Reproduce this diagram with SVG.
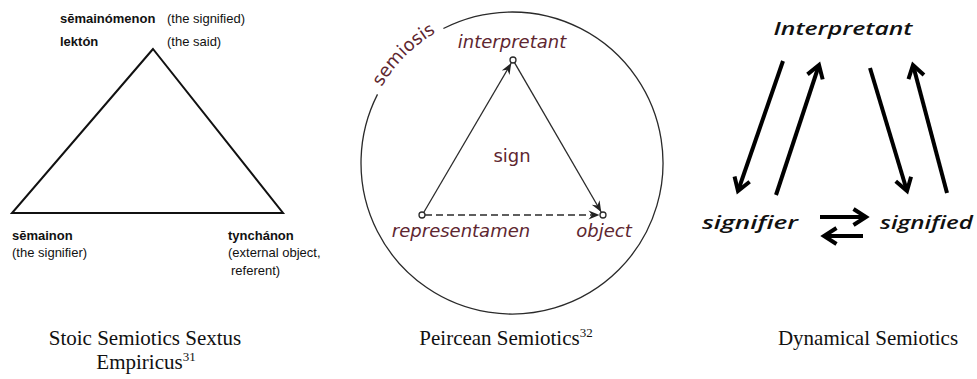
<svg xmlns="http://www.w3.org/2000/svg" width="977" height="379" viewBox="0 0 977 379">
<style>
.gk{font-family:"Liberation Sans",Arial,sans-serif;font-size:13px;font-weight:bold;fill:#111}
.gl{font-family:"Liberation Sans",Arial,sans-serif;font-size:13px;fill:#111}
.pc{font-family:"DejaVu Sans",sans-serif;font-size:18px;fill:#5e2630}
.pi{font-style:italic}
.dy{font-family:"Open Sans",sans-serif;font-size:18px;font-style:italic;font-weight:600;fill:#111}
.cap{font-family:"Liberation Serif","Times New Roman",serif;font-size:21px;fill:#111}
.sup{font-size:13px}
.thin{stroke:#2a2a2a;stroke-width:1.3;fill:none}
.thick{stroke:#000;stroke-width:4;fill:none}
</style>
<defs>
<marker id="stealth" markerUnits="userSpaceOnUse" markerWidth="14" markerHeight="12" refX="0" refY="0" viewBox="-11 -6 12 12" orient="auto" overflow="visible">
<path d="M0,0 L-11,-4.5 L-7.5,0 L-11,4.5 Z" fill="#222"/>
</marker>
<marker id="chev" markerUnits="userSpaceOnUse" markerWidth="20" markerHeight="20" refX="0" refY="0" viewBox="-16 -10 20 20" orient="auto" overflow="visible">
<path d="M-12.5,-8 L0,0 L-12.5,8" fill="none" stroke="#000" stroke-width="4" stroke-linejoin="miter"/>
</marker>
<path id="semarc" d="M 377.5 94.4 A 151 151 0 0 1 443.4 28.5"/>
</defs>

<!-- Left: Stoic semiotics -->
<g id="stoic-triangle">
<path d="M153,49 L12,213 L283,213 Z" fill="none" stroke="#111" stroke-width="2" stroke-linejoin="miter"/>
</g>
<g id="semainomenon">
<text class="gk" x="60" y="23">sēmainómenon</text>
<text class="gl" x="167" y="23">(the signified)</text>
<text class="gk" x="60" y="46">lektón</text>
<text class="gl" x="167" y="46">(the said)</text>
</g>
<g id="semainon">
<text class="gk" x="12" y="240">sēmainon</text>
<text class="gl" x="12" y="257">(the signifier)</text>
</g>
<g id="tynchanon">
<text class="gk" x="228" y="240">tynchánon</text>
<text class="gl" x="228" y="257">(external object,</text>
<text class="gl" x="231" y="275">referent)</text>
</g>

<!-- Middle: Peircean semiotics -->
<g id="semiosis">
<path class="thin" d="M 443.4 28.5 A 151 151 0 1 1 377.5 94.4"/>
<text class="pc"><textPath href="#semarc" startOffset="50%" text-anchor="middle">semiosis</textPath></text>
</g>
<g id="connectors-peirce">
<line class="thin" x1="424" y1="212" x2="511.2" y2="63.2" marker-end="url(#stealth)"/>
<line class="thin" x1="514.5" y1="62.6" x2="601.2" y2="212" marker-end="url(#stealth)"/>
<line class="thin" x1="425" y1="215" x2="599.5" y2="215" stroke-dasharray="7,4" marker-end="url(#stealth)"/>
</g>
<g id="interpretant">
<circle cx="513" cy="60" r="3" fill="#fff" stroke="#2a2a2a" stroke-width="1.3"/>
<text class="pc pi" x="512" y="48" text-anchor="middle">interpretant</text>
</g>
<g id="sign">
<text class="pc" x="512" y="162" text-anchor="middle">sign</text>
</g>
<g id="representamen">
<circle cx="422" cy="215" r="3" fill="#fff" stroke="#2a2a2a" stroke-width="1.3"/>
<text class="pc pi" x="461" y="237" text-anchor="middle">representamen</text>
</g>
<g id="object">
<circle cx="603" cy="215" r="3" fill="#fff" stroke="#2a2a2a" stroke-width="1.3"/>
<text class="pc pi" x="604" y="237" text-anchor="middle">object</text>
</g>

<!-- Right: Dynamical semiotics -->
<g id="dyn-interpretant">
<text class="dy" x="843" y="35" text-anchor="middle" textLength="139" lengthAdjust="spacingAndGlyphs">Interpretant</text>
</g>
<g id="signifier">
<text class="dy" x="702" y="229" textLength="96" lengthAdjust="spacingAndGlyphs">signifier</text>
</g>
<g id="signified">
<text class="dy" x="880" y="229" textLength="93" lengthAdjust="spacingAndGlyphs">signified</text>
</g>
<g id="connectors-dyn">
<line class="thick" x1="783" y1="61" x2="738" y2="191" marker-end="url(#chev)"/>
<line class="thick" x1="776" y1="195" x2="819" y2="65" marker-end="url(#chev)"/>
<line class="thick" x1="870" y1="68" x2="907" y2="191" marker-end="url(#chev)"/>
<line class="thick" x1="947" y1="193" x2="913" y2="65" marker-end="url(#chev)"/>
<line class="thick" x1="820" y1="217" x2="866" y2="217" marker-end="url(#chev)"/>
<line class="thick" x1="863" y1="236" x2="824" y2="236" marker-end="url(#chev)"/>
</g>

<!-- Captions -->
<g id="captions">
<text class="cap" x="145" y="345" text-anchor="middle">Stoic Semiotics  Sextus</text>
<text class="cap" x="146" y="369" text-anchor="middle">Empiricus<tspan class="sup" dy="-8">31</tspan></text>
<text class="cap" x="506" y="345" text-anchor="middle">Peircean Semiotics<tspan class="sup" dy="-8">32</tspan></text>
<text class="cap" x="868" y="345" text-anchor="middle">Dynamical Semiotics</text>
</g>
</svg>
